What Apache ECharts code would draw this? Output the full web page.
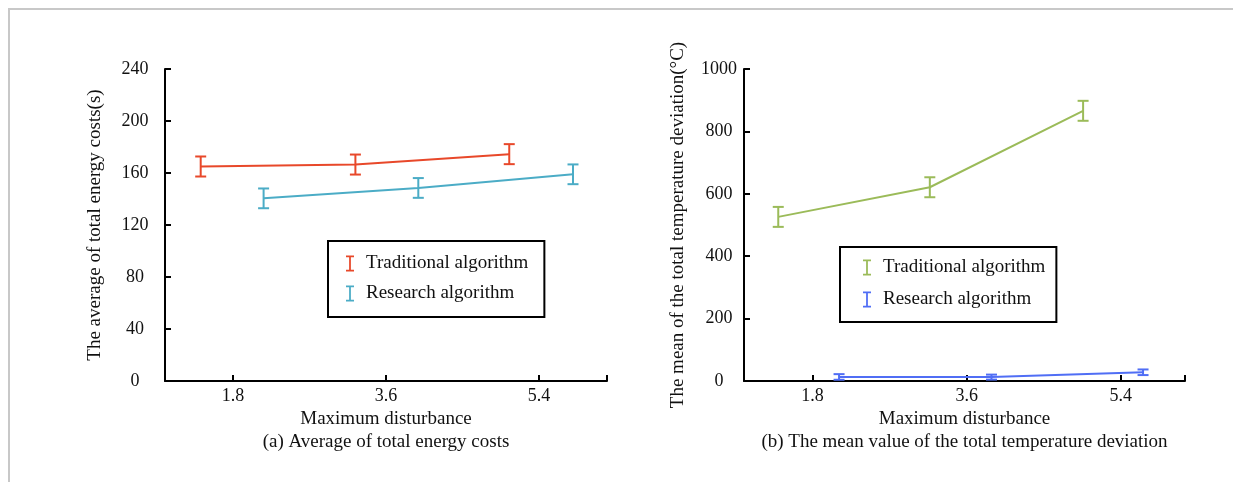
<!DOCTYPE html>
<html>
<head>
<meta charset="utf-8">
<script src="https://cdn.jsdelivr.net/npm/echarts@6/dist/echarts.min.js"></script>
<style>
  html, body { margin: 0; padding: 0; background: #fff; }
  #frame { position: absolute; left: 8px; top: 8px; width: 1240px; height: 490px;
           border-left: 2px solid #c8c8c8; border-top: 2px solid #c8c8c8; }
  .chart { position: absolute; left: 0; top: 0; width: 1233px; height: 482px; }
</style>
</head>
<body>
<div id="frame"></div>
<div class="chart" id="energy"></div>
<div class="chart" id="temp"></div>
<script>
// (a) average of total energy costs
const energyTradX = [1.42, 3.24, 5.05];
const energyTrad = [165, 166.5, 174.5];
const energyTradErr = [7.7, 7.7, 7.7];
const energyResX = [2.16, 3.98, 5.80];
const energyRes = [140.5, 148.5, 159];
const energyResErr = [7.6, 7.6, 7.6];

// (b) mean of total temperature deviation
const tempTradX = [1.40, 3.17, 4.96];
const tempTrad = [526, 621, 866];
const tempTradErr = [32, 32, 32];
const tempResX = [2.11, 3.89, 5.66];
const tempRes = [13, 12.5, 28];
const tempResErr = [9, 8, 9];

const xTicks = [1.8, 3.6, 5.4];
const seriesNames = ["Traditional algorithm", "Research algorithm"];

const FONT = "Liberation Serif";
const IBEAM = "path://M0,0 H9 V2 H5.5 V16 H9 V18 H0 V16 H3.5 V2 H0 Z";

function pairs(xs, ys) {
  return xs.map((x, i) => [x, ys[i]]);
}
function errRows(xs, ys, es) {
  return xs.map((x, i) => [x, ys[i] - es[i], ys[i] + es[i]]);
}

function errorBars(color, data) {
  return {
    type: "custom",
    data: data,
    z: 3,
    encode: { x: 0, y: [1, 2] },
    renderItem(params, api) {
      const top = api.coord([api.value(0), api.value(2)]);
      const bot = api.coord([api.value(0), api.value(1)]);
      const hw = 5.5;
      const st = { stroke: color, lineWidth: 2 };
      return {
        type: "group",
        children: [
          { type: "line", shape: { x1: top[0], y1: top[1], x2: bot[0], y2: bot[1] }, style: st },
          { type: "line", shape: { x1: top[0] - hw, y1: top[1], x2: top[0] + hw, y2: top[1] }, style: st },
          { type: "line", shape: { x1: bot[0] - hw, y1: bot[1], x2: bot[0] + hw, y2: bot[1] }, style: st },
        ],
      };
    },
  };
}

function lineSeries(name, color, data) {
  return {
    name: name,
    type: "line",
    data: data,
    symbol: "none",
    color: color,
    lineStyle: { color: color, width: 2 },
    z: 2,
  };
}

function buildOption(cfg) {
  return {
    animation: false,
    grid: { left: cfg.gridLeft, top: 69, width: cfg.gridWidth, height: 312 },
    xAxis: {
      type: "value",
      min: 1,
      max: cfg.xMax,
      name: "Maximum disturbance",
      nameLocation: "middle",
      nameGap: 27,
      nameTextStyle: { fontFamily: FONT, fontSize: 19, color: "#111" },
      splitLine: { show: false },
      axisLine: { onZero: false, lineStyle: { color: "#000", width: 2 } },
      axisTick: { inside: true, length: 6, lineStyle: { color: "#000", width: 2 },
                  customValues: xTicks.concat([cfg.xMax]) },
      axisLabel: { customValues: xTicks, margin: 6, fontFamily: FONT, fontSize: 18, color: "#111" },
    },
    yAxis: {
      type: "value",
      min: 0,
      max: cfg.yMax,
      interval: cfg.yStep,
      name: cfg.yName,
      nameLocation: "middle",
      nameGap: cfg.yNameGap,
      nameTextStyle: { fontFamily: FONT, fontSize: 19, color: "#111" },
      splitLine: { show: false },
      axisLine: { show: true, lineStyle: { color: "#000", width: 2 } },
      axisTick: { inside: true, length: 6, lineStyle: { color: "#000", width: 2 } },
      axisLabel: { margin: cfg.yLabelMargin, align: "center", fontFamily: FONT, fontSize: 18, color: "#111",
                   formatter: (v) => String(v) },
    },
    legend: {
      orient: "vertical",
      left: cfg.legend.left,
      top: cfg.legend.top,
      padding: cfg.legend.padding,
      itemGap: cfg.legend.gap,
      borderColor: "#000",
      borderWidth: 2,
      itemWidth: 8,
      itemHeight: 18,
      icon: IBEAM,
      data: seriesNames,
      textStyle: { fontFamily: FONT, fontSize: 19, color: "#111", lineHeight: 18,
                   padding: [0, 0, 0, 7] },
    },
    graphic: [{
      type: "text",
      x: cfg.gridLeft + cfg.gridWidth / 2,
      y: 442,
      style: { text: cfg.caption, font: "19px " + FONT, fill: "#111",
               textAlign: "center", textVerticalAlign: "middle" },
    }],
    series: [
      lineSeries(seriesNames[0], cfg.colors[0], cfg.lines[0]),
      lineSeries(seriesNames[1], cfg.colors[1], cfg.lines[1]),
      errorBars(cfg.colors[0], cfg.errs[0]),
      errorBars(cfg.colors[1], cfg.errs[1]),
    ],
  };
}

const energyChart = echarts.init(document.getElementById("energy"));
energyChart.setOption(buildOption({
  gridLeft: 165, gridWidth: 442, xMax: 6.2,
  yMax: 240, yStep: 40, yNameGap: 60, yLabelMargin: 30,
  yName: "The average of total energy costs(s)",
  caption: "(a) Average of total energy costs",
  legend: { left: 328, top: 241, padding: [13, 16, 14, 18], gap: 11 },
  colors: ["#e8482a", "#4bacc6"],
  lines: [pairs(energyTradX, energyTrad), pairs(energyResX, energyRes)],
  errs: [errRows(energyTradX, energyTrad, energyTradErr), errRows(energyResX, energyRes, energyResErr)],
}));

const tempChart = echarts.init(document.getElementById("temp"));
tempChart.setOption(buildOption({
  gridLeft: 744, gridWidth: 441, xMax: 6.15,
  yMax: 1000, yStep: 200, yNameGap: 56, yLabelMargin: 25,
  yName: "The mean of the total temperature deviation(°C)",
  caption: "(b) The mean value of the total temperature deviation",
  legend: { left: 840, top: 247, padding: [11, 11, 13, 23], gap: 13 },
  colors: ["#9bbb59", "#506ef5"],
  lines: [pairs(tempTradX, tempTrad), pairs(tempResX, tempRes)],
  errs: [errRows(tempTradX, tempTrad, tempTradErr), errRows(tempResX, tempRes, tempResErr)],
}));
</script>
</body>
</html>
